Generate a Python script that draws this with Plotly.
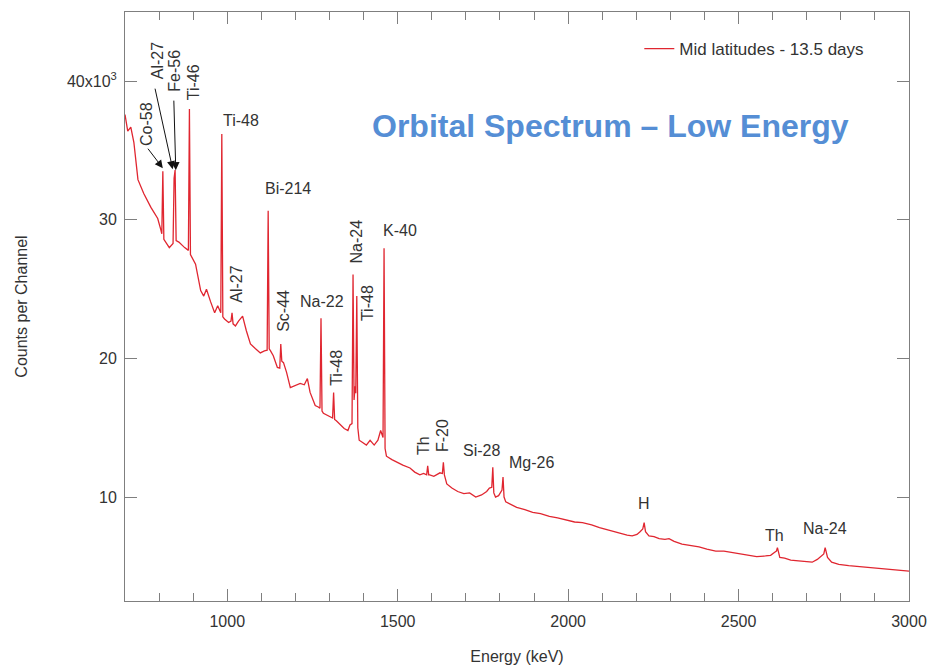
import plotly.graph_objects as go

# Gamma-ray spectrum, mid latitudes, 13.5 days of accumulation
energy_kev = [
    700, 708, 717, 726, 738, 755, 776, 796, 805, 808,
    811, 814, 830, 841, 844, 847, 850, 858, 875, 886,
    889, 892, 907, 922, 931, 939, 951, 963, 972, 978,
    981, 984, 987, 992, 1004, 1011, 1014, 1017, 1024, 1033,
    1045, 1056, 1068, 1083, 1097, 1109, 1117, 1120, 1123, 1127,
    1135, 1147, 1154, 1157, 1160, 1165, 1174, 1185, 1200, 1214,
    1226, 1235, 1243, 1258, 1267, 1272, 1275, 1278, 1282, 1293,
    1305, 1309, 1312, 1315, 1320, 1331, 1343, 1354, 1360, 1366,
    1369, 1372, 1375, 1377, 1380, 1383, 1387, 1396, 1408, 1419,
    1431, 1442, 1450, 1457, 1460, 1463, 1467, 1483, 1498, 1515,
    1536, 1550, 1565, 1576, 1585, 1588, 1591, 1594, 1606, 1618,
    1624, 1631, 1634, 1637, 1644, 1659, 1676, 1694, 1711, 1729,
    1746, 1761, 1769, 1776, 1779, 1782, 1787, 1796, 1803, 1806,
    1809, 1812, 1817, 1831, 1849, 1873, 1896, 1919, 1945, 1969,
    1995, 2019, 2042, 2069, 2092, 2121, 2150, 2173, 2188, 2202,
    2211, 2219, 2223, 2227, 2237, 2252, 2267, 2284, 2296, 2311,
    2334, 2360, 2384, 2407, 2433, 2457, 2480, 2506, 2530, 2553,
    2579, 2594, 2605, 2611, 2614, 2618, 2621, 2635, 2653, 2676,
    2699, 2716, 2731, 2740, 2750, 2754, 2758, 2761, 2773, 2794,
    2823, 2846, 2873, 2896, 2918, 2945, 2968, 2991, 3000,
]
counts = [
    37600, 36400, 36700, 35600, 32900, 31900, 30900, 30100, 29300, 29000,
    33500, 28600, 28000, 28300, 33000, 33600, 28500, 28400, 28000, 27800,
    38000, 27500, 26800, 24900, 24500, 25000, 24100, 23300, 23800, 23400,
    23300, 36200, 23000, 22850, 22600, 22700, 23300, 22500, 22350, 22700,
    23050, 22000, 21050, 20700, 20400, 20550, 20600, 30650, 20700, 20550,
    20200, 19350, 19300, 21050, 19800, 19700, 19000, 17900, 18050, 18200,
    18100, 18550, 17550, 16600, 16500, 16400, 22900, 16200, 16050, 15900,
    15750, 15700, 17550, 15600, 15500, 15200, 14950, 14800, 15200, 15300,
    26050, 17000, 18000, 17500, 24500, 15000, 14100, 13950, 13750, 14100,
    13750, 14100, 14800, 14300, 27950, 13500, 12950, 12700, 12500, 12300,
    12100, 11800, 11600, 11700, 11600, 12250, 11600, 11600, 11500, 11650,
    11750, 11700, 12500, 11600, 10950, 10650, 10400, 10250, 10300, 10000,
    10150, 10400, 10650, 10700, 12150, 10300, 10000, 10100, 10400, 10500,
    11450, 10000, 9650, 9450, 9250, 9100, 8900, 8800, 8600, 8500,
    8350, 8200, 8150, 8000, 7800, 7600, 7450, 7250, 7200, 7300,
    7500, 7700, 8150, 7500, 7200, 7150, 7000, 6950, 7000, 6800,
    6600, 6500, 6400, 6250, 6100, 6100, 6000, 5850, 5750, 5700,
    5750, 5800, 6000, 6100, 6350, 5800, 5650, 5600, 5450, 5400,
    5350, 5300, 5500, 5700, 5900, 6350, 5800, 5650, 5300, 5150,
    5050, 5000, 4900, 4850, 4800, 4750, 4700, 4650, 4650,
]
assert len(energy_kev) == len(counts)

# Line identifications: text, energy (keV), counts, rotated?
line_labels = ["Co-58", "Al-27", "Fe-56", "Ti-46", "Ti-48", "Bi-214", "Al-27",
               "Sc-44", "Na-22", "Ti-48", "Na-24", "Ti-48", "K-40", "Th",
               "F-20", "Si-28", "Mg-26", "H", "Th", "Na-24"]
label_energy = [761, 796, 846, 901, 1039, 1179, 1027,
                1165, 1279, 1320, 1378, 1410, 1507, 1574,
                1632, 1746, 1893, 2223, 2606, 2755]
label_counts = [36900, 41500, 40750, 39900, 37150, 32300, 25350,
                23400, 24100, 19350, 28450, 24000, 29250, 13750,
                14450, 13350, 12500, 9500, 7200, 7700]
label_vertical = [True, True, True, True, False, False, True,
                  True, False, True, True, True, False, True,
                  True, False, False, False, False, False]

# Arrows for the crowded low-energy lines: tip energy, tip counts, tail offset (px)
arrow_energy = [811, 840, 849]
arrow_counts = [33730, 33660, 33590]
arrow_dx = [-16, -18, -2]
arrow_dy = [-21, -82, -71]

y_tick_vals = [10000, 20000, 30000, 40000]
y_tick_text = ["10", "20", "30", "40x10<sup>3</sup>"]

FONT = "Liberation Sans, Arial, sans-serif"
TEXT = "#333333"
AXIS = "#7f7f7f"

fig = go.Figure()
fig.add_trace(go.Scatter(
    x=energy_kev, y=counts, mode="lines",
    name="Mid latitudes - 13.5 days",
    line=dict(color="#e02630", width=1.3),
))

annotations = []
for txt, e, c, vert in zip(line_labels, label_energy, label_counts, label_vertical):
    annotations.append(dict(
        x=e, y=c, xref="x", yref="y", text=txt, showarrow=False,
        textangle=-90 if vert else 0, xanchor="center", yanchor="middle",
        font=dict(family=FONT, size=16, color=TEXT),
    ))
for e, c, dx, dy in zip(arrow_energy, arrow_counts, arrow_dx, arrow_dy):
    annotations.append(dict(
        x=e, y=c, xref="x", yref="y", text="", showarrow=True,
        ax=dx, ay=dy, arrowhead=2, arrowsize=1.6, arrowwidth=1,
        arrowcolor="#111111", standoff=0,
    ))
annotations.append(dict(
    x=0.619, y=0.807, xref="paper", yref="paper",
    text="<b>Orbital Spectrum – Low Energy</b>", showarrow=False,
    xanchor="center", yanchor="middle",
    font=dict(family=FONT, size=32, color="#558ED5"),
))

fig.update_layout(
    width=929, height=665,
    margin=dict(l=125, r=20, t=12, b=64),
    paper_bgcolor="white", plot_bgcolor="white",
    font=dict(family=FONT, size=16, color=TEXT),
    showlegend=True,
    legend=dict(x=0.656, y=0.937, xanchor="left", yanchor="middle",
                bgcolor="rgba(0,0,0,0)", font=dict(size=17, color=TEXT)),
    annotations=annotations,
)
fig.update_xaxes(
    range=[700, 3000], dtick=500, tick0=0, automargin=False,
    ticks="inside", ticklen=12, tickcolor=AXIS, tickwidth=1,
    minor=dict(dtick=100, ticks="inside", ticklen=8, tickcolor=AXIS),
    showline=True, linecolor=AXIS, linewidth=1, mirror="ticks",
    showgrid=False, zeroline=False, ticklabelstandoff=6,
    tickfont=dict(family=FONT, size=16, color=TEXT),
    title=dict(text="Energy (keV)", standoff=22,
               font=dict(family=FONT, size=16, color=TEXT)),
)
fig.update_yaxes(
    range=[2500, 45000], tickvals=y_tick_vals, ticktext=y_tick_text,
    automargin=False,
    ticks="inside", ticklen=12, tickcolor=AXIS, tickwidth=1,
    showline=True, linecolor=AXIS, linewidth=1, mirror="ticks",
    showgrid=False, zeroline=False, ticklabelstandoff=4,
    tickfont=dict(family=FONT, size=16, color=TEXT),
    title=dict(text="Counts per Channel", standoff=35,
               font=dict(family=FONT, size=16, color=TEXT)),
)

fig.write_html("out.html")
